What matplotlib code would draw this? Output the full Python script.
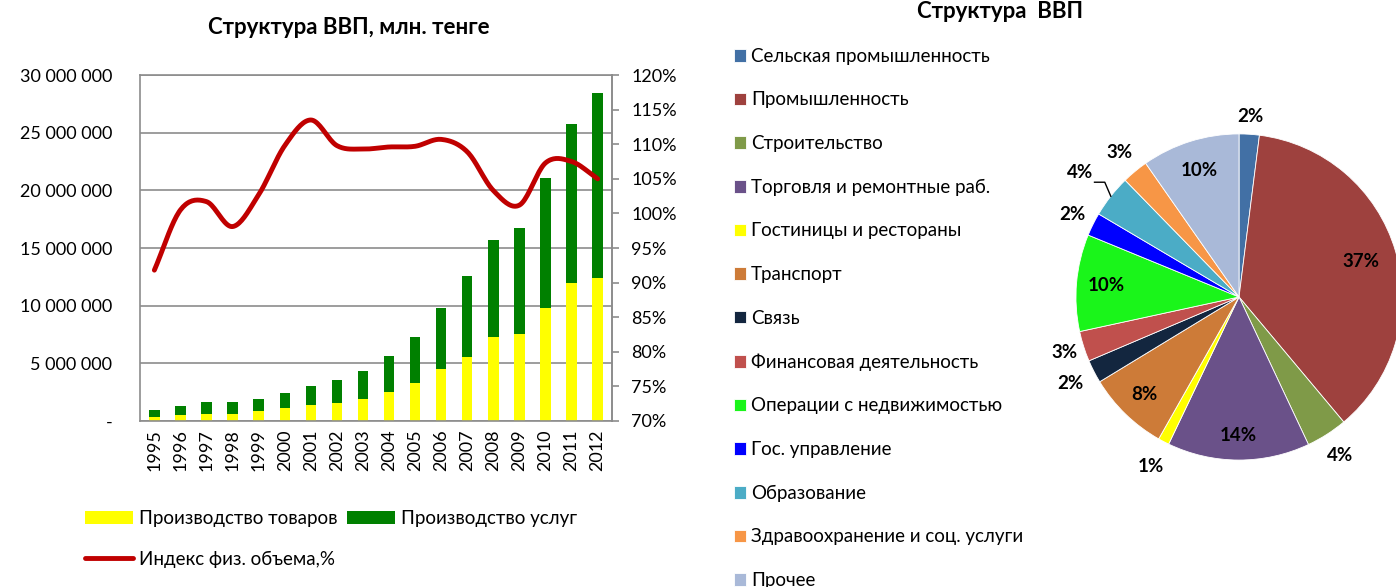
import numpy as np
import matplotlib
matplotlib.use("Agg")
import matplotlib.pyplot as plt
from matplotlib.ticker import FuncFormatter

plt.rcParams['font.family'] = ['Lato', 'DejaVu Sans']

years = [str(y) for y in range(1995, 2013)]
goods = [0.38, 0.49, 0.61, 0.61, 0.84, 1.16, 1.42, 1.59, 1.91, 2.49, 3.30, 4.52,
         5.56, 7.27, 7.56, 9.82, 11.93, 12.37]          # млн. тенге, x10^6
total = [0.93, 1.30, 1.62, 1.62, 1.88, 2.46, 3.04, 3.56, 4.34, 5.62, 7.27, 9.82,
         12.54, 15.67, 16.77, 21.11, 25.72, 28.41]
services = [t - g for t, g in zip(total, goods)]
index_pct = [91.8, 100.5, 101.7, 98.1, 102.7, 109.8, 113.5, 109.8, 109.3, 109.6,
             109.7, 110.7, 108.9, 103.3, 101.2, 107.3, 107.5, 105.0]

sectors = ["Сельская промышленность", "Промышленность", "Строительство",
           "Торговля и ремонтные раб.", "Гостиницы и рестораны", "Транспорт",
           "Связь", "Финансовая деятельность", "Операции с недвижимостью",
           "Гос. управление", "Образование", "Здравоохранение и соц. услуги",
           "Прочее"]
shares = [2.0, 36.9, 4.1, 14.1, 1.1, 8.1, 2.3, 3.0, 9.6, 2.3, 4.2, 2.6, 9.7]
pie_colors = ["#4270A5", "#9E413E", "#7F9A48", "#6A5189", "#FFFF00", "#CD7B38",
              "#13263F", "#C0504D", "#1AF51A", "#0000FF", "#4BACC6", "#F79646",
              "#A9B9D8"]
label_r = [1.11, 0.78, 1.15, 0.85, 1.17, 0.83, 1.16, 1.12, 0.82, 1.14, 1.24, 1.15, 0.81]


def smooth(x, y, n=20):
    # Catmull-Rom curve through the points (like Excel "smoothed line")
    x = np.asarray(x, float)
    y = np.asarray(y, float)
    px = np.concatenate([[2 * x[0] - x[1]], x, [2 * x[-1] - x[-2]]])
    py = np.concatenate([[2 * y[0] - y[1]], y, [2 * y[-1] - y[-2]]])
    xs, ys = [], []
    t = np.linspace(0, 1, n, endpoint=False)
    for i in range(1, len(px) - 2):
        for p, out in ((px, xs), (py, ys)):
            p0, p1, p2, p3 = p[i - 1], p[i], p[i + 1], p[i + 2]
            out.extend(0.5 * (2 * p1 + (-p0 + p2) * t + (2 * p0 - 5 * p1 + 4 * p2 - p3) * t ** 2
                              + (-p0 + 3 * p1 - 3 * p2 + p3) * t ** 3))
    xs.append(x[-1])
    ys.append(y[-1])
    return xs, ys


fig = plt.figure(figsize=(13.96, 5.87), dpi=100)

# ---- left: bars + index line
ax = fig.add_axes([0.1003, 0.2828, 0.3381, 0.5894])
xpos = np.arange(len(years))
ax.bar(xpos, [g * 1e6 for g in goods], width=0.4, color="#FFFF00", label="Производство товаров", zorder=2)
ax.bar(xpos, [s * 1e6 for s in services], width=0.4, bottom=[g * 1e6 for g in goods],
       color="#008000", label="Производство услуг", zorder=2)
ax.set_ylim(0, 30e6)
ax.set_xlim(-0.55, len(years) - 0.45)
ax.set_yticks(np.arange(0, 30e6 + 1, 5e6))
ax.yaxis.set_major_formatter(FuncFormatter(lambda v, p: "-" if v == 0 else f"{int(v):,}".replace(",", " ")))
ax.set_xticks(xpos)
ax.set_xticklabels(years, rotation=90)
ax.grid(axis="y", color="#8c8c8c", linewidth=1.2, zorder=0)
ax.tick_params(axis="y", length=0, labelsize=13, pad=20)
ax.tick_params(axis="x", length=0, labelsize=13, pad=6)
for s in ax.spines.values():
    s.set_color("#8c8c8c")
    s.set_linewidth(1.2)

ax2 = ax.twinx()
sx, sy = smooth(xpos, index_pct)
ax2.plot(sx, sy, color="#C00000", linewidth=3.5, label="Индекс физ. объема,%", solid_capstyle="round")
ax2.set_ylim(70, 120)
ax2.set_yticks(np.arange(70, 121, 5))
ax2.yaxis.set_major_formatter(FuncFormatter(lambda v, p: f"{int(v)}%"))
ax2.tick_params(axis="y", length=5, color="#8c8c8c", labelsize=13, width=1.2, pad=9)
for s in ax2.spines.values():
    s.set_visible(False)
ax2.spines["right"].set_visible(True)
ax2.spines["right"].set_color("#8c8c8c")
ax2.spines["right"].set_linewidth(1.2)

fig.text(349 / 1396, 1 - 28 / 587, "Структура ВВП, млн. тенге", ha="center", va="center",
         fontsize=16, fontweight="bold")

h1, l1 = ax.get_legend_handles_labels()
h2, l2 = ax2.get_legend_handles_labels()
fig.legend([h1[0], h2[0], h1[1]], [l1[0], l2[0], l1[1]], ncol=2, loc="upper left",
           bbox_to_anchor=(68 / 1396, 1 - 493 / 587), frameon=False, fontsize=13.5,
           handlelength=2.56, handleheight=0.7, handletextpad=0.32, columnspacing=0.5,
           labelspacing=1.27)

# ---- right: pie
pax = fig.add_axes([0.7357, 0.1329, 0.3037, 0.7223])
wedges, _ = pax.pie(shares, colors=pie_colors, startangle=90, counterclock=False,
                    wedgeprops=dict(edgecolor="white", linewidth=0.6))
pax.set_xlim(-1.3, 1.3)
pax.set_ylim(-1.3, 1.3)
pax.set_aspect("equal")
for w, v, r in zip(wedges, shares, label_r):
    a = np.deg2rad((w.theta1 + w.theta2) / 2)
    pax.text(r * np.cos(a), r * np.sin(a), f"{v:.0f}%", ha="center", va="center",
             fontsize=13.5, fontweight="bold")
    if r > 1.2:
        # leader line from the label to the wedge
        ex, ey = np.cos(a), np.sin(a)
        pax.plot([ex - 0.10, ex - 0.037, ex], [ey + 0.086, ey + 0.086, ey],
                 color="black", lw=1, clip_on=False)

fig.text(1000 / 1396, 1 - 12 / 587, "Структура  ВВП", ha="center", va="center",
         fontsize=16, fontweight="bold")
fig.legend(wedges, sectors, loc="upper left", bbox_to_anchor=(717 / 1396, 1 - 31 / 587),
           frameon=False, fontsize=13.5, handlelength=0.65, handleheight=0.65,
           handletextpad=0.27, labelspacing=1.42)

fig.savefig("out.png", dpi=100)
